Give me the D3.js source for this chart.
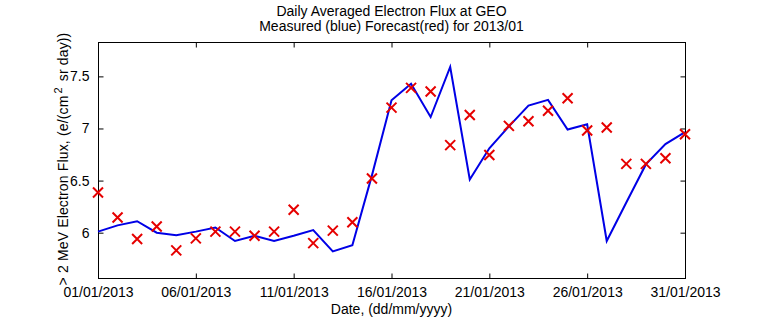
<!DOCTYPE html>
<html>
<head>
<meta charset="utf-8">
<script src="https://cdn.jsdelivr.net/npm/d3@7"></script>
<style>
  html, body { margin: 0; padding: 0; background: #fff; }
  svg text { font-family: "Liberation Sans", Arial, sans-serif; fill: #000; }
</style>
</head>
<body>
<svg id="chart" width="757" height="324"></svg>
<script>
// ---- data ----
const days = [1,2,3,4,5,6,7,8,9,10,11,12,13,14,15,16,17,18,19,20,21,22,23,24,25,26,27,28,29,30,31];
const measured = [6.01, 6.07, 6.11, 6.00, 5.975, 6.01, 6.05, 5.92, 5.97, 5.92, 5.97, 6.025, 5.82, 5.88, 6.55, 7.27,
                  7.43, 7.11, 7.59, 6.51, 6.81, 7.02, 7.22, 7.275, 6.99, 7.04, 5.92, 6.29, 6.655, 6.85, 6.965];
const forecast = [6.385, 6.145, 5.94, 6.06, 5.83, 5.945, 6.01, 6.01, 5.97, 6.01, 6.22, 5.90, 6.02, 6.10, 6.52, 7.20,
                  7.39, 7.355, 6.84, 7.13, 6.745, 7.025, 7.07, 7.17, 7.29, 6.98, 7.01, 6.66, 6.66, 6.715, 6.945];
const xTickDays = [1, 6, 11, 16, 21, 26, 31];
const xTickLabels = ["01/01/2013", "06/01/2013", "11/01/2013", "16/01/2013", "21/01/2013", "26/01/2013", "31/01/2013"];
const yTicks = [6, 6.5, 7, 7.5];
const yTickLabels = ["6", "6.5", "7", "7.5"];
const yDomain = [5.565, 7.83];
const titleLines = ["Daily Averaged Electron Flux at GEO", "Measured (blue) Forecast(red) for 2013/01"];
const xLabel = "Date, (dd/mm/yyyy)";

(function () {
// ---- layout ----
const L = 98, R = 685, T = 42, B = 278;
const svg = d3.select("#chart");
const x = d3.scaleLinear().domain([1, 31]).range([L, R]);
const y = d3.scaleLinear().domain(yDomain).range([B, T]);
const fs = 14, tk = 5;

// axes with inward ticks, mirrored on all sides
const axBottom = d3.axisBottom(x).tickValues(xTickDays).tickSize(-tk).tickPadding(9)
  .tickFormat((d, i) => xTickLabels[i]);
const axTop = d3.axisTop(x).tickValues(xTickDays).tickSize(-tk).tickFormat("");
const axLeft = d3.axisLeft(y).tickValues(yTicks).tickSize(-tk).tickPadding(9)
  .tickFormat((d, i) => yTickLabels[i]);
const axRight = d3.axisRight(y).tickValues(yTicks).tickSize(-tk).tickFormat("");

function styleAxis(g) {
  g.selectAll("line").attr("stroke", "#000").attr("stroke-width", 1);
  g.selectAll("text").attr("font-size", fs).attr("fill", "#000")
    .style("font-family", '"Liberation Sans", Arial, sans-serif');
}
svg.append("g").attr("transform", `translate(0,${B + 0.5})`).call(axBottom).call(styleAxis);
svg.append("g").attr("transform", `translate(0,${T + 0.5})`).call(axTop).call(styleAxis);
svg.append("g").attr("transform", `translate(${L + 0.5},0)`).call(axLeft).call(styleAxis);
svg.append("g").attr("transform", `translate(${R + 0.5},0)`).call(axRight).call(styleAxis);
svg.selectAll("path.domain").remove();
svg.append("rect").attr("x", L + 0.5).attr("y", T + 0.5).attr("width", R - L).attr("height", B - T)
  .attr("fill", "none").attr("stroke", "#000").attr("stroke-width", 1);

// measured line
const line = d3.line().x((d, i) => x(days[i])).y(d => y(d));
svg.append("path").datum(measured).attr("d", line)
  .attr("fill", "none").attr("stroke", "#0000e6").attr("stroke-width", 2).attr("stroke-linejoin", "miter");

// forecast x markers
const ms = 5;
svg.append("g").selectAll("path").data(forecast).join("path")
  .attr("d", (d, i) => {
    const cx = x(days[i]), cy = y(d);
    return `M${cx - ms},${cy - ms}L${cx + ms},${cy + ms}M${cx - ms},${cy + ms}L${cx + ms},${cy - ms}`;
  })
  .attr("stroke", "#e60000").attr("stroke-width", 2).attr("fill", "none");

// titles
svg.append("text").attr("x", (L + R) / 2).attr("y", 16).attr("text-anchor", "middle")
  .attr("font-size", fs).text(titleLines[0]);
svg.append("text").attr("x", (L + R) / 2).attr("y", 31).attr("text-anchor", "middle")
  .attr("font-size", fs).text(titleLines[1]);

// x label
svg.append("text").attr("x", (L + R) / 2).attr("y", 314).attr("text-anchor", "middle")
  .attr("font-size", fs).text(xLabel);

// y label with superscript
const yl = svg.append("text").attr("transform", `translate(68,159) rotate(-90)`)
  .attr("text-anchor", "middle").attr("font-size", fs).attr("letter-spacing", 0.15);
yl.append("tspan").text("> 2 MeV Electron Flux, (e/(cm");
yl.append("tspan").attr("dy", -6).attr("dx", 2).attr("font-size", 11).text("2");
yl.append("tspan").attr("dy", 6).attr("dx", 2).text(" sr day))");
})();
</script>
</body>
</html>
